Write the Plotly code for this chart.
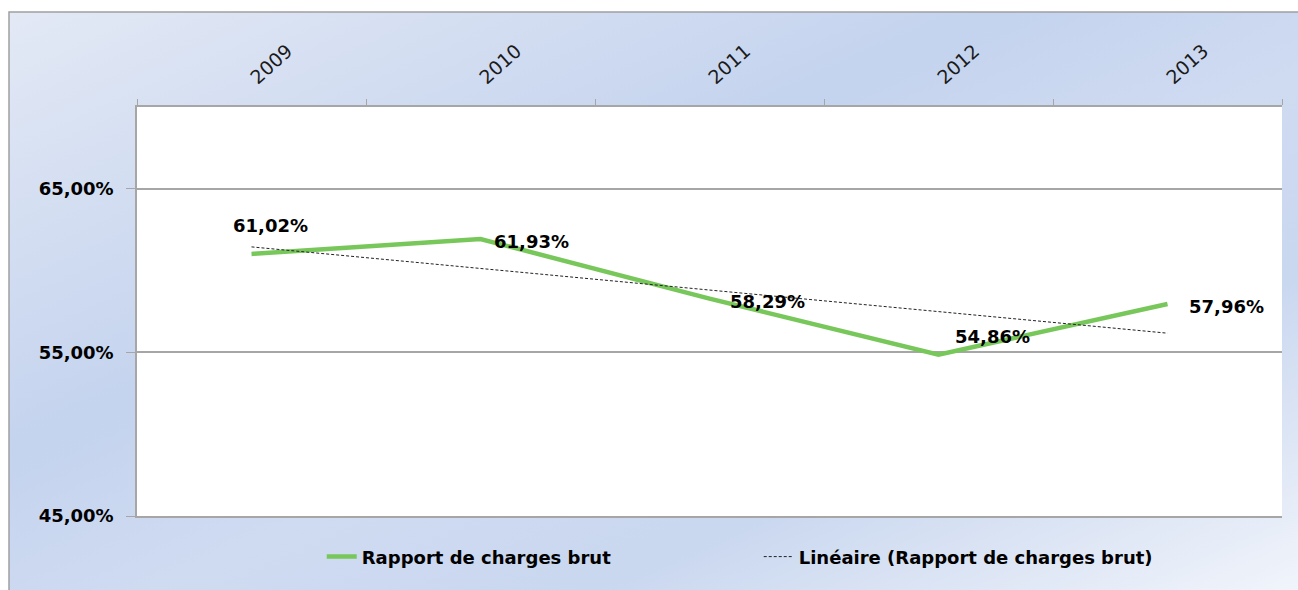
import base64
import numpy as np
import plotly.graph_objects as go

years = ["2009", "2010", "2011", "2012", "2013"]
ratio = [61.02, 61.93, 58.29, 54.86, 57.96]
ratio_labels = ["61,02%", "61,93%", "58,29%", "54,86%", "57,96%"]
y_ticks = [45, 55, 65]
y_tick_labels = ["45,00%", "55,00%", "65,00%"]
series_name = "Rapport de charges brut"
trend_name = "Linéaire (Rapport de charges brut)"

# linear trend line of the series (least squares, like Excel's "Linéaire")
xi = np.arange(len(ratio))
slope, intercept = np.polyfit(xi, ratio, 1)
trend = list(intercept + slope * xi)

W, H = 1298, 590
ML, MR, MT, MB = 137, 16, 107, 74
PW, PH = W - ML - MR, H - MT - MB

FONT = "DejaVu Sans"
GREEN = "#77c75a"
GRID = "#a6a6a6"

svg = """<svg xmlns='http://www.w3.org/2000/svg' width='100' height='100' viewBox='0 0 100 100' preserveAspectRatio='none'>
<defs><linearGradient id='g' x1='0' y1='0' x2='1' y2='1'>
<stop offset='0' stop-color='#e3e9f5'/>
<stop offset='0.38' stop-color='#c4d3ee'/>
<stop offset='0.55' stop-color='#cfdbf1'/>
<stop offset='0.72' stop-color='#c9d7ef'/>
<stop offset='1' stop-color='#f2f5fb'/>
</linearGradient></defs>
<rect width='100' height='100' fill='url(#g)'/></svg>"""
src = "data:image/svg+xml;base64," + base64.b64encode(svg.encode()).decode()

fig = go.Figure()
fig.add_trace(go.Scatter(
    x=years, y=ratio, mode="lines", name=series_name,
    line=dict(color=GREEN, width=4.5),
))
fig.add_trace(go.Scatter(
    x=years, y=trend, mode="lines", name=trend_name,
    line=dict(color="#222222", width=1, dash="3px,2px"),
))

# data labels (offsets in px relative to each point); x given as category index
label_shift = [(19, 28), (51, -2), (58, -3), (54, 18), (59, -3)]
for i, (v, t, (dx, dy)) in enumerate(zip(ratio, ratio_labels, label_shift)):
    fig.add_annotation(x=i, y=v, xref="x", yref="y", text=t, showarrow=False,
                       xshift=dx, yshift=dy, xanchor="center", yanchor="middle",
                       font=dict(family=FONT, size=18, color="#000000", weight="bold"))

x0p = -(ML - 9) / PW
y1p = 1 + (MT - 12) / PH
fig.add_layout_image(dict(source=src, xref="paper", yref="paper", x=x0p, y=y1p,
                          sizex=(W - 9) / PW + 0.01, sizey=(H - 12) / PH + 0.01,
                          xanchor="left", yanchor="top", sizing="stretch", layer="below"))
fig.add_shape(type="rect", xref="paper", yref="paper", x0=0, x1=1, y0=0, y1=1,
              fillcolor="white", line_width=0, layer="below")
fig.add_shape(type="rect", xref="paper", yref="paper", x0=x0p, x1=1 + (MR + 20) / PW,
              y0=-(MB + 20) / PH, y1=y1p, line=dict(color="#a0a0a0", width=1.5),
              fillcolor="rgba(0,0,0,0)", layer="above")

fig.update_layout(
    width=W, height=H,
    margin=dict(l=ML, r=MR, t=MT, b=MB),
    paper_bgcolor="white", plot_bgcolor="white",
    showlegend=True,
    legend=dict(orientation="h", x=0.543, xanchor="center", y=-0.1, yanchor="middle",
                font=dict(family=FONT, size=18, color="#000000", weight="bold"),
                bgcolor="rgba(0,0,0,0)", entrywidth=392, traceorder="normal"),
    xaxis=dict(type="category", side="top", range=[-0.5, 4.5], tickson="boundaries",
               showgrid=False, showline=True, mirror=True, linecolor=GRID, linewidth=1.5,
               ticks="outside", ticklen=6, tickcolor=GRID, tickangle=-42,
               tickfont=dict(family=FONT, size=19, color="#1a1a1a"),
               ticklabelstandoff=10),
    yaxis=dict(range=[45, 70], tickvals=y_ticks, ticktext=y_tick_labels,
               showgrid=True, gridcolor=GRID, gridwidth=1.5, zeroline=False,
               showline=True, linecolor=GRID, linewidth=1.5,
               ticks="outside", ticklen=9, tickcolor=GRID,
               tickfont=dict(family=FONT, size=18, color="#000000", weight="bold"),
               ticklabelstandoff=9),
)
fig.write_html("out.html", config={"displayModeBar": False},
               post_script="document.body.style.margin='0';")
